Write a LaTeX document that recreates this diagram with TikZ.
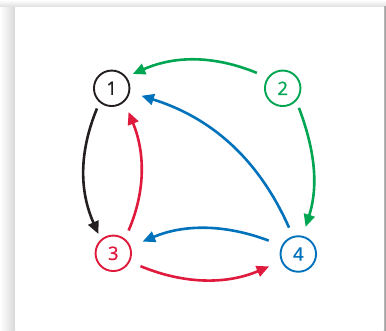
\documentclass[tikz,border=0pt]{standalone}
\usepackage{fontspec}
\setmainfont{Open Sans}
\newfontfamily\digitfont[FakeBold=1]{Open Sans}
\usetikzlibrary{arrows.meta}
\definecolor{cgreen}{HTML}{00A651}
\definecolor{cblue}{HTML}{0072BC}
\definecolor{cred}{HTML}{DF1A3C}
\definecolor{cblack}{HTML}{231F20}
\begin{document}
\begin{tikzpicture}[x=1pt,y=1pt,
  vtx/.style={circle,draw,line width=1.9pt,minimum size=35.5pt,inner sep=0pt,
    font=\digitfont\fontsize{18.5}{20}\selectfont},
  edge/.style={line width=2.6pt,-{Triangle[length=12.5pt,width=11pt]}}]
\useasboundingbox (0,0) rectangle (386,330);
\fill[white] (0,0) rectangle (386,330);
\shade[left color=white,right color=black!15] (0,0) rectangle (15,323);
\shade[top color=white,bottom color=black!13] (0,323) rectangle (386,330);
\shade[left color=black!25,right color=black!45] (383.5,0) rectangle (386,323);
\fill[white] (15,0) rectangle (383.5,323);

\node[vtx,draw=cblack,text=cblack] (n1) at (111.7,241.7) {1};
\node[vtx,draw=cgreen,text=cgreen] (n2) at (282.7,241.7) {2};
\node[vtx,draw=cred,text=cred] (n3) at (113.3,76.7) {3};
\node[vtx,draw=cblue,text=cblue] (n4) at (298.3,76) {4};

\draw[edge,cgreen,shorten <=11.6pt,shorten >=6.9pt] (n2.144.5) to[out=157.7,in=23.7] (n1.38.7);
\draw[edge,cgreen,shorten <=7.3pt,shorten >=9.4pt] (n2.-43) to[out=-69.4,in=72.6] (n4.76.2);
\draw[edge,cblack,shorten <=6.6pt,shorten >=6pt] (n1.-131.3) to[out=-112.2,in=113.8] (n3.132.2);
\draw[edge,cred,shorten <=9pt,shorten >=10.8pt] (n3.51.1) to[out=66.8,in=-67.8] (n1.-47.3);
\draw[edge,cblue,shorten <=9.3pt,shorten >=12pt] (n4.107.3) to[out=114,in=-17.4] (n1.-12.6);
\draw[edge,cblue,shorten <=13.8pt,shorten >=12.9pt] (n4.153.1) to[out=159.3,in=22.9] (n3.21.5);
\draw[edge,cred,shorten <=11.4pt,shorten >=13pt] (n3.-27.7) to[out=-22.5,in=203.1] (n4.203.6);
\end{tikzpicture}
\end{document}
